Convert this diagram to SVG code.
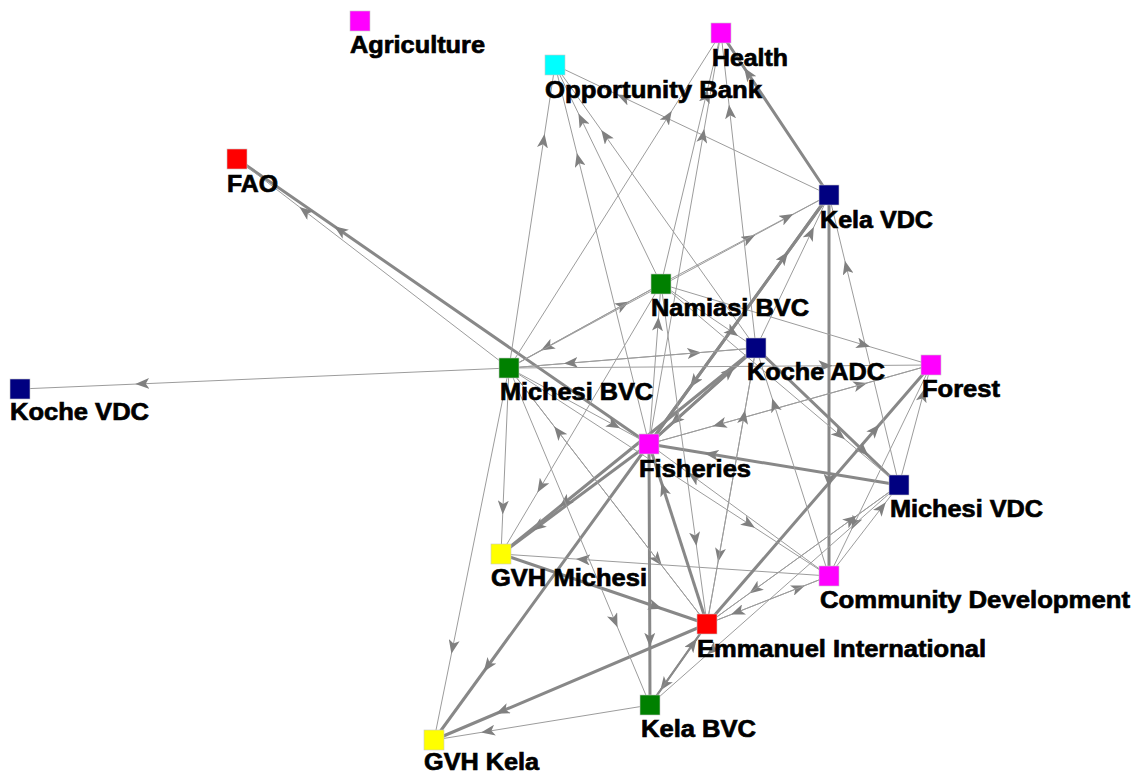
<svg xmlns="http://www.w3.org/2000/svg" width="1137" height="773" viewBox="0 0 1137 773">
<style>
.t{fill:none;stroke:#9c9c9c;stroke-width:1;marker-mid:url(#a)}
.m{fill:none;stroke:#8a8a8a;stroke-width:2;marker-mid:url(#a)}
.k{fill:none;stroke:#888;stroke-width:3;marker-mid:url(#a)}
.n{stroke:#c8c8c8;stroke-width:0.6}
text{font-family:"Liberation Sans",Arial,sans-serif;font-weight:bold;font-size:24px;fill:#000;stroke:#000;stroke-width:0.7}
</style>
<defs>
<marker id="a" viewBox="0 0 14 11" refX="7" refY="5.5" markerWidth="14" markerHeight="11" markerUnits="userSpaceOnUse" orient="auto">
<path d="M0,0 L14,5.5 L0,11 L3.5,5.5 z" fill="#808080"/>
</marker>
</defs>
<rect width="1137" height="773" fill="#fff"/>
<g id="connectors">
<polyline class="t" points="509,368 142.3,383.8 20,389"/>
<polyline class="k" points="649,444 340,230.3 237,159"/>
<polyline class="t" points="509,368 305,211.3 237,159"/>
<polyline class="t" points="509,368 543.5,140.8 555,65"/>
<polyline class="t" points="649,444 578.5,159.8 555,65"/>
<polyline class="t" points="661,284 581.5,119.8 555,65"/>
<polyline class="t" points="756,348 605.3,135.8 555,65"/>
<polyline class="t" points="829,195 623.5,97.5 555,65"/>
<polyline class="t" points="509,368 668,116.8 721,33"/>
<polyline class="t" points="649,444 703,135.8 721,33"/>
<polyline class="t" points="661,284 706,95.8 721,33"/>
<polyline class="t" points="756,348 729.8,111.8 721,33"/>
<polyline class="k" points="829,195 748,73.5 721,33"/>
<polyline class="t" points="509,368 623,305 661,284"/>
<polyline class="t" points="661,284 547,347 509,368"/>
<polyline class="t" points="509,368 749,238.3 829,195"/>
<polyline class="t" points="661,284 787,217.3 829,195"/>
<polyline class="k" points="829,195 694,381.8 649,444"/>
<polyline class="k" points="649,444 784,257.3 829,195"/>
<polyline class="k" points="756,348 675.8,420 649,444"/>
<polyline class="k" points="649,444 729.3,372 756,348"/>
<polyline class="k" points="649,444 538,526.5 501,554"/>
<polyline class="k" points="756,348 564.8,502.5 501,554"/>
<polyline class="k" points="649,444 487.8,666 434,740"/>
<polyline class="k" points="707,624 502.3,711 434,740"/>
<polyline class="t" points="650,705 488,731.3 434,740"/>
<polyline class="t" points="509,368 452.8,647 434,740"/>
<polyline class="t" points="509,368 503,507.5 501,554"/>
<polyline class="t" points="661,284 541,486.5 501,554"/>
<polyline class="k" points="501,554 655.5,606.5 707,624"/>
<polyline class="t" points="829,576 583,559.5 501,554"/>
<polyline class="k" points="649,444 649.8,639.8 650,705"/>
<polyline class="k" points="707,624 663.5,489 649,444"/>
<polyline class="k" points="899,485 711.5,454.3 649,444"/>
<polyline class="k" points="707,624 875,429.8 931,365"/>
<polyline class="k" points="829,195 829,480.8 829,576"/>
<polyline class="k" points="756,348 863.3,450.8 899,485"/>
<polyline class="t" points="509,368 694.3,353 756,348"/>
<polyline class="t" points="756,348 570.8,363 509,368"/>
<polyline class="t" points="509,368 825.5,365.8 931,365"/>
<polyline class="t" points="899,485 846.5,267.5 829,195"/>
<polyline class="t" points="661,284 863.5,344.8 931,365"/>
<polyline class="t" points="649,444 860.5,384.8 931,365"/>
<polyline class="t" points="931,365 719.5,424.3 649,444"/>
<polyline class="t" points="829,576 774.3,405 756,348"/>
<polyline class="t" points="899,485 923,395 931,365"/>
<polyline class="t" points="931,365 854.5,523.3 829,576"/>
<polyline class="t" points="899,485 755,589.3 707,624"/>
<polyline class="t" points="707,624 851,519.8 899,485"/>
<polyline class="t" points="829,576 881.5,507.8 899,485"/>
<polyline class="t" points="707,624 798.5,588 829,576"/>
<polyline class="t" points="829,576 737.5,612 707,624"/>
<polyline class="t" points="509,368 749,524 829,576"/>
<polyline class="t" points="829,576 694,477 649,444"/>
<polyline class="t" points="509,368 614.8,620.8 650,705"/>
<polyline class="t" points="661,284 695.5,539 707,624"/>
<polyline class="t" points="756,348 719.3,555 707,624"/>
<polyline class="t" points="707,624 743.8,417 756,348"/>
<polyline class="t" points="509,368 657.5,560 707,624"/>
<polyline class="t" points="707,624 558.5,432 509,368"/>
<polyline class="t" points="509,368 614,425 649,444"/>
<polyline class="t" points="649,444 658,324 661,284"/>
<polyline class="t" points="661,284 732.3,332 756,348"/>
<polyline class="t" points="661,284 839.5,434.8 899,485"/>
<polyline class="t" points="756,348 810.8,233.3 829,195"/>
<polyline class="m" points="707,624 664.3,684.8 650,705"/>
<polyline class="m" points="650,705 692.8,644.3 707,624"/>
<polyline class="t" points="899,485 712.3,650 650,705"/>
</g>
<g id="agriculture"><rect class="n" x="350" y="11" width="20" height="20" fill="#ff00ff"/><text x="350" y="53" textLength="135" lengthAdjust="spacingAndGlyphs">Agriculture</text></g>
<g id="health"><rect class="n" x="711" y="23" width="20" height="20" fill="#ff00ff"/><text x="712" y="66" textLength="76" lengthAdjust="spacingAndGlyphs">Health</text></g>
<g id="opportunity-bank"><rect class="n" x="545" y="55" width="20" height="20" fill="#00ffff"/><text x="545" y="98" textLength="217" lengthAdjust="spacingAndGlyphs">Opportunity Bank</text></g>
<g id="fao"><rect class="n" x="227" y="149" width="20" height="20" fill="#ff0000"/><text x="227" y="192" textLength="51" lengthAdjust="spacingAndGlyphs">FAO</text></g>
<g id="kela-vdc"><rect class="n" x="819" y="185" width="20" height="20" fill="#000080"/><text x="820" y="228" textLength="113" lengthAdjust="spacingAndGlyphs">Kela VDC</text></g>
<g id="namiasi-bvc"><rect class="n" x="651" y="274" width="20" height="20" fill="#008000"/><text x="651" y="316" textLength="158" lengthAdjust="spacingAndGlyphs">Namiasi BVC</text></g>
<g id="koche-adc"><rect class="n" x="746" y="338" width="20" height="20" fill="#000080"/><text x="747" y="380" textLength="138" lengthAdjust="spacingAndGlyphs">Koche ADC</text></g>
<g id="forest"><rect class="n" x="921" y="355" width="20" height="20" fill="#ff00ff"/><text x="922" y="397" textLength="78" lengthAdjust="spacingAndGlyphs">Forest</text></g>
<g id="michesi-bvc"><rect class="n" x="499" y="358" width="20" height="20" fill="#008000"/><text x="500" y="400" textLength="153" lengthAdjust="spacingAndGlyphs">Michesi BVC</text></g>
<g id="koche-vdc"><rect class="n" x="10" y="379" width="20" height="20" fill="#000080"/><text x="10" y="420" textLength="139" lengthAdjust="spacingAndGlyphs">Koche VDC</text></g>
<g id="fisheries"><rect class="n" x="639" y="434" width="20" height="20" fill="#ff00ff"/><text x="639" y="477" textLength="112" lengthAdjust="spacingAndGlyphs">Fisheries</text></g>
<g id="michesi-vdc"><rect class="n" x="889" y="475" width="20" height="20" fill="#000080"/><text x="890" y="517" textLength="153" lengthAdjust="spacingAndGlyphs">Michesi VDC</text></g>
<g id="gvh-michesi"><rect class="n" x="491" y="544" width="20" height="20" fill="#ffff00"/><text x="491" y="586" textLength="156" lengthAdjust="spacingAndGlyphs">GVH Michesi</text></g>
<g id="community-development"><rect class="n" x="819" y="566" width="20" height="20" fill="#ff00ff"/><text x="820" y="608" textLength="310" lengthAdjust="spacingAndGlyphs">Community Development</text></g>
<g id="emmanuel-international"><rect class="n" x="697" y="614" width="20" height="20" fill="#ff0000"/><text x="697" y="657" textLength="289" lengthAdjust="spacingAndGlyphs">Emmanuel International</text></g>
<g id="kela-bvc"><rect class="n" x="640" y="695" width="20" height="20" fill="#008000"/><text x="641" y="737" textLength="115" lengthAdjust="spacingAndGlyphs">Kela BVC</text></g>
<g id="gvh-kela"><rect class="n" x="424" y="730" width="20" height="20" fill="#ffff00"/><text x="424" y="770" textLength="115" lengthAdjust="spacingAndGlyphs">GVH Kela</text></g>
</svg>
